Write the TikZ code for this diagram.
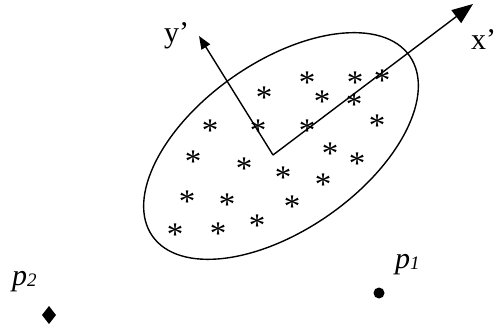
\documentclass[tikz,border=0pt]{standalone}
\usepackage{fontspec}
\setmainfont{Liberation Serif}
\usetikzlibrary{arrows.meta}
\begin{document}
\begin{tikzpicture}[x=1pt,y=-1pt,
  ast/.style={anchor=base,inner sep=0pt,font=\fontsize{33}{33}\selectfont,yshift=-15.5pt},
  lbl/.style={anchor=base west,inner sep=0pt,font=\fontsize{30}{30}\selectfont},
  axis/.style={line width=1.4pt},
  ellipseline/.style={line width=1.4pt}]
\useasboundingbox (0,0) rectangle (495,326);
% ellipse
\coordinate (c) at (281,146);
\draw[ellipseline, rotate around={35:(c)}] (c) ellipse [x radius=157pt, y radius=84pt];
% asterisks
\foreach \px/\py [count=\i] in {307/78,355/78,382/76,264/93,322/97,354/100,210/126,258/126,307/126,377/121,330/149,357/159,193/157,244/164,283/173,323/180,187/197,227/200,292/202,175/230,218/229,257/221}
  \node[ast] (s\i) at (\px,\py) {\smash{*}};
% axes
\coordinate (o) at (273,155);
\coordinate (xt) at (473,4);
\coordinate (yt) at (199,36);
\draw[axis,-{Triangle[length=21pt,width=16pt]}] (o) -- (xt);
\draw[axis,-{Triangle[length=13pt,width=10pt]}] (o) -- (yt);
\node[lbl] (xl) at (471,50) {x’};
\node[lbl] (yl) at (164,43) {y’};
% points
\node[circle,fill,inner sep=0pt,minimum size=11pt] (p1) at (379,293) {};
\node[lbl] (p1l) at (395,268) {\itshape p\raisebox{-1pt}{\fontsize{19}{19}\selectfont 1}};
\coordinate (p2) at (49,315);
\fill (49,306) -- (56,315) -- (49,324) -- (42,315) -- cycle;
\node[lbl] (p2l) at (12,285) {\itshape p\raisebox{-1pt}{\fontsize{19}{19}\selectfont 2}};
\end{tikzpicture}
\end{document}
